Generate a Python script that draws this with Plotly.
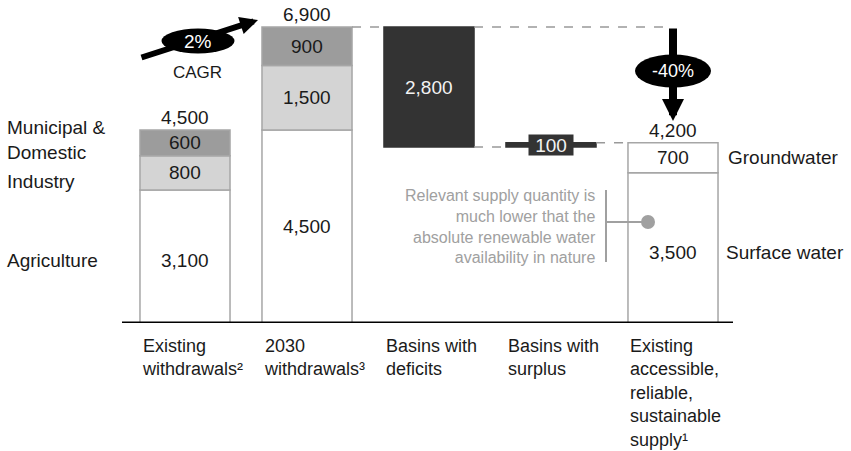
import plotly.graph_objects as go

# ---------------- data ----------------
categories = ["Existing<br>withdrawals²", "2030<br>withdrawals³", "Basins with<br>deficits",
              "Basins with<br>surplus", "Existing<br>accessible,<br>reliable,<br>sustainable<br>supply¹"]
sector_names = ["Agriculture", "Industry", "Municipal &<br>Domestic"]
agriculture = [3100, 4500]
industry = [800, 1500]
municipal = [600, 900]
withdrawal_totals = [4500, 6900]
deficit = 2800
surplus = 100
supply_names = ["Surface water", "Groundwater"]
supply_surface = 3500
supply_ground = 700
supply_total = 4200
cagr_label = "2%"
cagr_text = "CAGR"
gap_label = "-40%"
callout = ("Relevant supply quantity is<br>much lower that the<br>"
           "absolute renewable water<br>availability in nature")

# ---------------- style ----------------
FONT = "Liberation Sans, Arial, sans-serif"
FS = 19
W, H = 851, 451
ML, MR, MT, MB = 122, 118, 10, 128
PXX = 122.0      # px per category unit
PXY = 0.0429     # px per value unit
BW = 0.738
EDGE = "#a6a6a6"
WHITE = "#ffffff"
LIGHT = "#d4d4d4"
MID = "#9c9c9c"
DARK = "#333333"
TXT = "#1a1a1a"

plot_w = W - ML - MR
plot_h = H - MT - MB
xmin = -63 / PXX
xmax = xmin + plot_w / PXX
ymax = plot_h / PXY

def px2x(px):
    return (px - ML) / PXX + xmin

def px2y(py):
    return (H - MB - py) / PXY

def px2paper(px):
    return (px - ML) / plot_w

fig = go.Figure()

def add_bar(xs, vals, bases, color, line_color):
    fig.add_trace(go.Bar(x=xs, y=vals, base=bases, width=BW,
                         marker=dict(color=color, line=dict(color=line_color, width=1.5)),
                         hoverinfo="skip", showlegend=False))

x_w = [0, 1]
base_ind = [a for a in agriculture]
base_mun = [a + i for a, i in zip(agriculture, industry)]
add_bar(x_w, agriculture, [0, 0], WHITE, EDGE)
add_bar(x_w, industry, base_ind, LIGHT, EDGE)
add_bar(x_w, municipal, base_mun, MID, EDGE)

deficit_base = withdrawal_totals[1] - deficit
add_bar([2], [deficit], [deficit_base], DARK, DARK)
add_bar([3], [surplus], [deficit_base], DARK, DARK)
add_bar([4], [supply_surface], [0], WHITE, EDGE)
add_bar([4], [supply_ground], [supply_surface], WHITE, EDGE)

ann = []

def label(x, y, text, color=TXT, size=FS, **kw):
    d = dict(x=x, y=y, text=text, showarrow=False,
             font=dict(family=FONT, size=size, color=color))
    d.update(kw)
    ann.append(d)

# values inside segments
agri_lab_y = [agriculture[0] / 2 - 100, agriculture[1] / 2]
for i in range(2):
    label(i, agri_lab_y[i], f"{agriculture[i]:,}")
    label(i, base_ind[i] + industry[i] / 2, f"{industry[i]:,}")
    label(i, base_mun[i] + municipal[i] / 2, f"{municipal[i]:,}")
    label(i, withdrawal_totals[i], f"{withdrawal_totals[i]:,}", yanchor="bottom")
label(2, deficit_base + deficit / 2, f"{deficit:,}", color="#f2f2f2")
label(3, deficit_base + surplus / 2, f"{surplus:,}", color="#f2f2f2",
      bgcolor=DARK, width=44, height=20, borderpad=0)
surf_lab_y = supply_surface / 2 - 100
label(4, surf_lab_y, f"{supply_surface:,}")
label(4, supply_surface + supply_ground / 2, f"{supply_ground:,}")
label(4, supply_total, f"{supply_total:,}", yanchor="bottom")

# left sector labels
sector_y = [agri_lab_y[0], base_ind[0] + industry[0] / 2 - 200,
            base_mun[0] + municipal[0] / 2 + 60]
for name, yy in zip(sector_names, sector_y):
    label(px2paper(5), yy, name, xref="paper", xanchor="left", align="left")

# right supply labels
label(px2paper(724), surf_lab_y, supply_names[0], xref="paper", xanchor="left")
label(px2paper(726), supply_surface + supply_ground / 2, supply_names[1], xref="paper", xanchor="left")

# category labels
for i, c in enumerate(categories):
    ann.append(dict(x=i - BW / 2, xref="x", y=0, yref="y", yshift=-11,
                    text=c, showarrow=False, xanchor="left", yanchor="top", align="left",
                    font=dict(family=FONT, size=18, color=TXT)))

# CAGR arrow
ann.append(dict(x=px2x(258), y=px2y(20), ax=px2x(140), ay=px2y(58), axref="x", ayref="y",
                text="", showarrow=True, arrowhead=2, arrowwidth=6, arrowsize=0.6,
                arrowcolor="black", standoff=0, startstandoff=0))
# -40% arrow
ann.append(dict(x=4, y=px2y(121), ax=4, ay=withdrawal_totals[1], axref="x", ayref="y",
                text="", showarrow=True, arrowhead=2, arrowwidth=8, arrowsize=0.55,
                arrowcolor="black", standoff=0, startstandoff=0))

label(px2x(198), px2y(41), cagr_label, color="white", size=19)
label(px2x(197), px2y(72), cagr_text, size=17)
label(4, px2y(71), gap_label, color="white", size=18)

# callout
label(px2x(598), px2y(226), callout, color="#a0a0a0", size=16, xanchor="right", align="right")

shapes = [
    # baseline
    dict(type="line", xref="paper", yref="y", x0=0, x1=1, y0=0, y1=0,
         line=dict(color="black", width=3), layer="above"),
    # dashed connectors
    dict(type="line", x0=1 + BW / 2, x1=2 - BW / 2, y0=withdrawal_totals[1], y1=withdrawal_totals[1],
         line=dict(color="#999999", width=1.5, dash="dash")),
    dict(type="line", x0=2 + BW / 2, x1=3.96, y0=withdrawal_totals[1], y1=withdrawal_totals[1],
         line=dict(color="#999999", width=1.5, dash="dash")),
    dict(type="line", x0=2 + BW / 2, x1=3 - BW / 2, y0=deficit_base, y1=deficit_base,
         line=dict(color="#999999", width=1.5, dash="dash")),
    dict(type="line", x0=3 + BW / 2, x1=4 - BW / 2, y0=supply_total, y1=supply_total,
         line=dict(color="#999999", width=1.5, dash="dash")),
    # ellipses
    dict(type="circle", xsizemode="pixel", ysizemode="pixel", xanchor=px2x(198), yanchor=px2y(41),
         x0=-36.5, x1=36.5, y0=-12.5, y1=12.5, fillcolor="black", line=dict(width=0), layer="above"),
    dict(type="circle", xsizemode="pixel", ysizemode="pixel", xanchor=4, yanchor=px2y(71),
         x0=-38, x1=38, y0=-16.5, y1=16.5, fillcolor="black", line=dict(width=0), layer="above"),
    # callout bracket
    dict(type="line", x0=px2x(606), x1=px2x(606), y0=px2y(190), y1=px2y(262),
         line=dict(color="#a0a0a0", width=2)),
    dict(type="line", x0=px2x(606), x1=px2x(648), y0=px2y(222), y1=px2y(222),
         line=dict(color="#a0a0a0", width=2)),
    dict(type="circle", xsizemode="pixel", ysizemode="pixel", xanchor=px2x(648), yanchor=px2y(222),
         x0=-7, x1=7, y0=-7, y1=7, fillcolor="#a0a0a0", line=dict(width=0)),
]

fig.update_layout(
    width=W, height=H,
    margin=dict(l=ML, r=MR, t=MT, b=MB),
    paper_bgcolor="white", plot_bgcolor="white",
    barmode="overlay",
    xaxis=dict(range=[xmin, xmax], visible=False, fixedrange=True),
    yaxis=dict(range=[0, ymax], visible=False, fixedrange=True),
    annotations=ann, shapes=shapes,
    font=dict(family=FONT, size=FS, color=TXT),
)

fig.write_html("out.html", config={"displayModeBar": False},
               post_script="document.body.style.margin='0';document.body.style.overflow='hidden';")
